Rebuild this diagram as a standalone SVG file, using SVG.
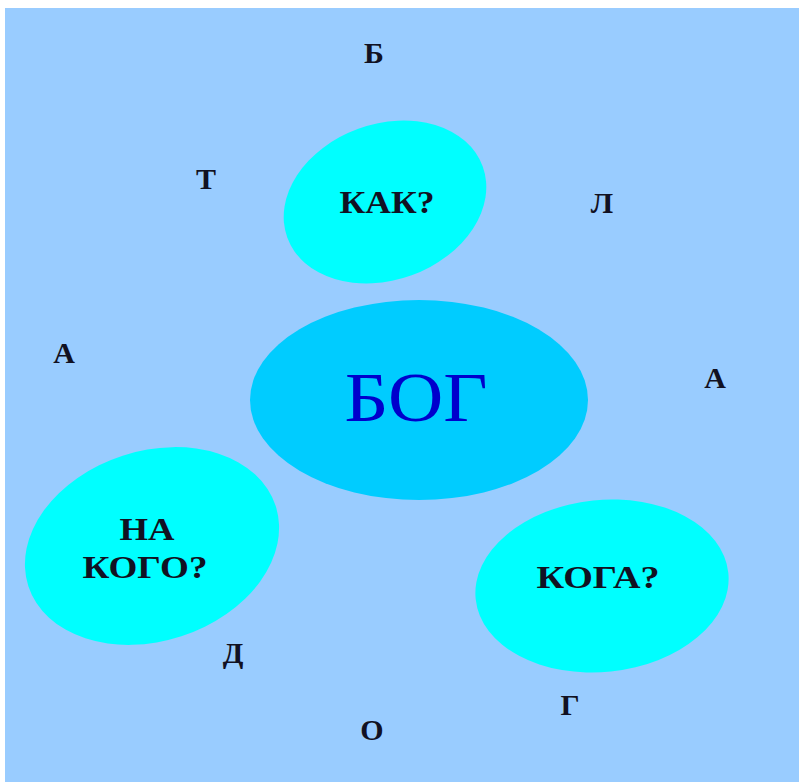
<svg xmlns="http://www.w3.org/2000/svg" width="799" height="782" viewBox="0 0 799 782">
<style>
.q{font-family:"Liberation Serif","Times New Roman",serif;font-weight:bold;font-size:31px;fill:#111122;text-anchor:middle}
.l{font-family:"Liberation Serif","Times New Roman",serif;font-weight:bold;font-size:30px;fill:#111122;text-anchor:middle}
.c{fill:#00FFFF}
</style>
<rect x="0" y="0" width="799" height="782" fill="#ffffff"/>
<rect x="5" y="8" width="794" height="774" fill="#99CCFF"/>
<g id="bog">
<ellipse cx="419" cy="400" rx="169" ry="100" fill="#00CCFF"/>
<text x="416" y="421" font-family="Liberation Serif,'Times New Roman',serif" font-size="70" fill="#0000CC" text-anchor="middle" textLength="143" lengthAdjust="spacingAndGlyphs">БОГ</text>
</g>
<g id="kak">
<ellipse class="c" cx="385" cy="202" rx="104" ry="78" transform="rotate(-20 385 202)"/>
<text class="q" x="387" y="213" textLength="95" lengthAdjust="spacingAndGlyphs">КАК?</text>
</g>
<g id="nakogo">
<ellipse class="c" cx="152" cy="546" rx="130" ry="95" transform="rotate(-18 152 546)"/>
<text class="q" x="147" y="540" textLength="55" lengthAdjust="spacingAndGlyphs">НА</text>
<text class="q" x="145" y="578" textLength="125" lengthAdjust="spacingAndGlyphs">КОГО?</text>
</g>
<g id="koga">
<ellipse class="c" cx="602" cy="586" rx="127" ry="86" transform="rotate(-6 602 586)"/>
<text class="q" x="598" y="588" textLength="123" lengthAdjust="spacingAndGlyphs">КОГА?</text>
</g>
<g id="letters">
<text class="l" x="374" y="63">Б</text>
<text class="l" x="206" y="189">Т</text>
<text class="l" x="602" y="213">Л</text>
<text class="l" x="64" y="363">А</text>
<text class="l" x="715" y="388">А</text>
<text class="l" x="233" y="663">Д</text>
<text class="l" x="570" y="715">Г</text>
<text class="l" x="372" y="740">О</text>
</g>
<g id="connectors"/>
</svg>
